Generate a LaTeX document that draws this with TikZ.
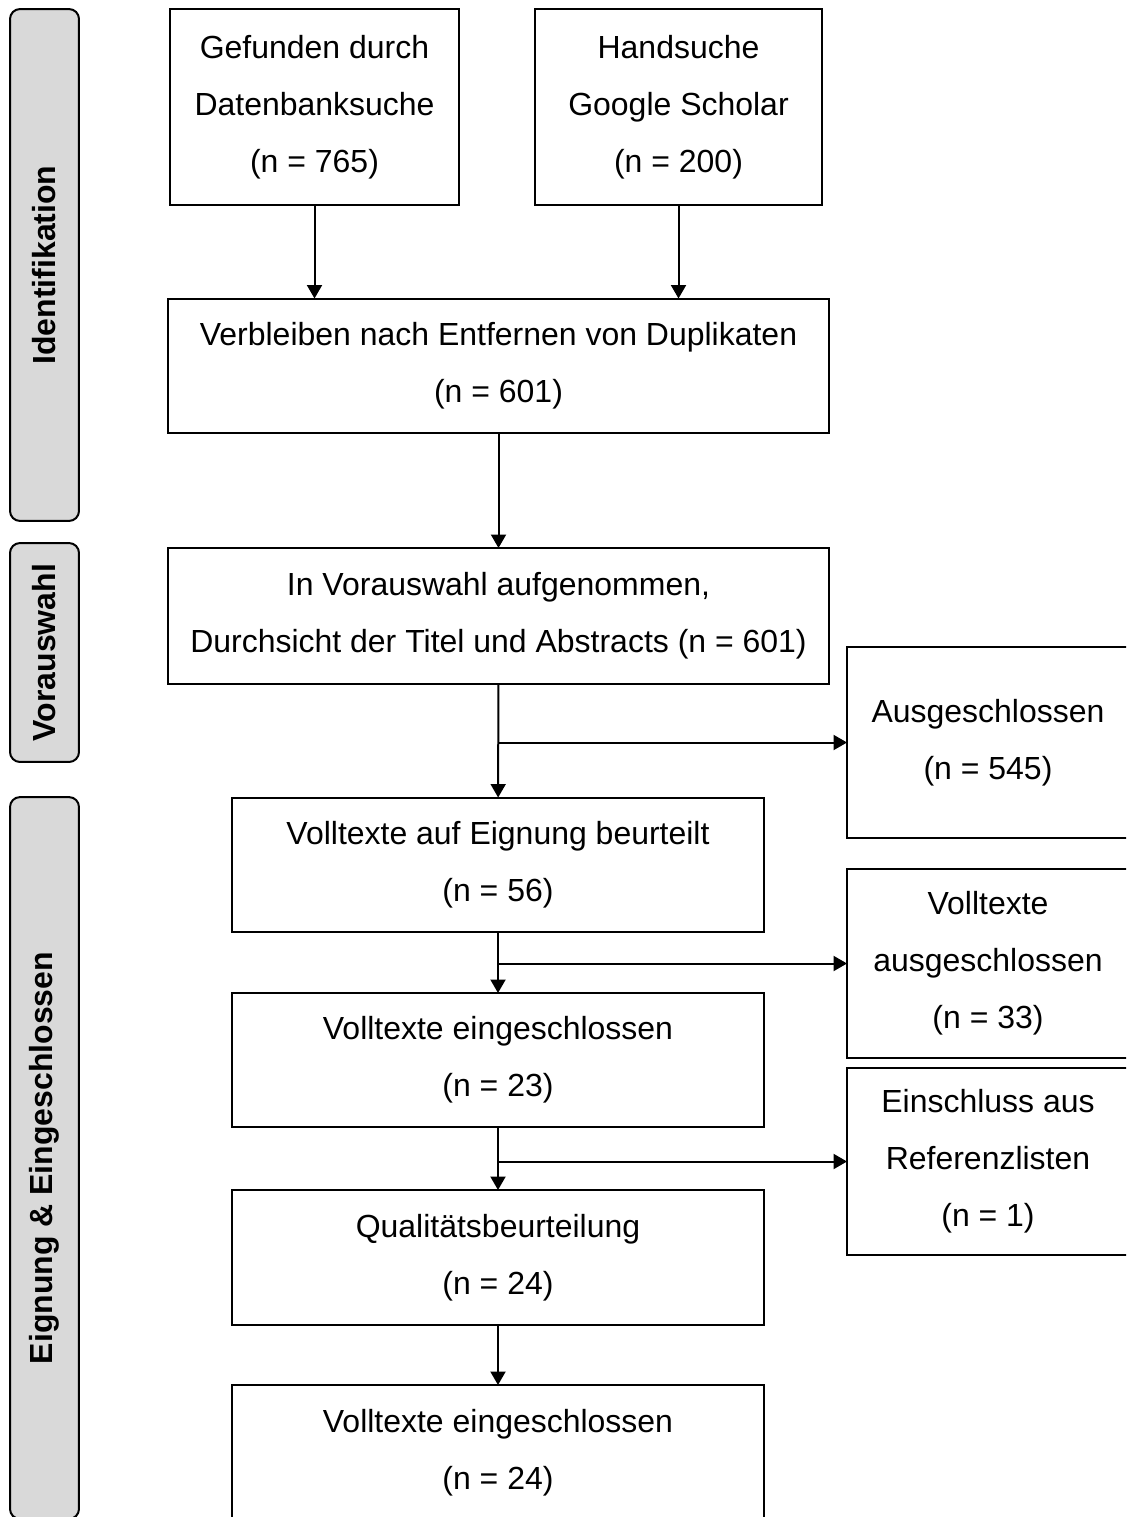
\documentclass[tikz,border=0pt]{standalone}
\usepackage{fontspec}
\setmainfont{Liberation Sans}
\usepackage{tikz}
\usetikzlibrary{arrows.meta}
\definecolor{phasegray}{HTML}{D9D9D9}

\begin{document}
\begin{tikzpicture}[x=0.02cm, y=-0.02cm,
        box/.style={draw, line width=0.04cm, inner sep=0, outer sep=0, align=center,
            font=\fontsize{18.2}{32.4}\selectfont},
        phase/.style={draw, line width=0.04cm, fill=phasegray, rounded corners=0.2cm,
            rotate=90, inner sep=0, outer sep=0, minimum height=1.38cm,
            font=\fontsize{18.2}{20}\selectfont\bfseries},
        arr/.style={line width=0.04cm, -{Triangle[length=0.27cm, width=0.3cm]}}]
        \useasboundingbox (0, 0) rectangle (1126, 1517);
        \clip (0, 0) rectangle (1126, 1517);
        % phases
        \node[phase, minimum width=10.24cm] (P1) at (44.5, 265) {Identifikation};
        \node[phase, minimum width=4.38cm] (P2) at (44.5, 652.5) {Vorauswahl};
        \node[phase, minimum width=14.44cm] (P3) at (44.5, 1158) {Eignung \& Eingeschlossen};
        % main column
        \node[box, minimum width=5.78cm, minimum height=3.92cm] (A1) at (314.5, 107) {Gefunden durch\\Datenbanksuche\\(n = 765)};
        \node[box, minimum width=5.74cm, minimum height=3.92cm] (A2) at (678.5, 107) {Handsuche\\Google Scholar\\(n = 200)};
        \node[box, minimum width=13.22cm, minimum height=2.7cm] (A3) at (498.5, 366) {Verbleiben nach Entfernen von Duplikaten\\(n = 601)};
        \node[box, minimum width=13.22cm, minimum height=2.72cm] (A4) at (498.5, 616) {In Vorauswahl aufgenommen,\\Durchsicht der Titel und Abstracts (n = 601)};
        \node[box, minimum width=10.64cm, minimum height=2.7cm] (A5) at (498, 865) {Volltexte auf Eignung beurteilt\\(n = 56)};
        \node[box, minimum width=10.64cm, minimum height=2.68cm] (A6) at (498, 1060) {Volltexte eingeschlossen\\(n = 23)};
        \node[box, minimum width=10.64cm, minimum height=2.7cm] (A7) at (498, 1257.5) {Qualitätsbeurteilung\\(n = 24)};
        \node[box, minimum width=10.64cm, minimum height=2.7cm] (A8) at (498, 1452.5) {Volltexte eingeschlossen\\(n = 24)};
        % side column
        \node[box, minimum width=5.64cm, minimum height=3.82cm] (B1) at (988, 742.5) {Ausgeschlossen\\(n = 545)};
        \node[box, minimum width=5.64cm, minimum height=3.78cm] (B2) at (988, 963.5) {Volltexte\\ausgeschlossen\\(n = 33)};
        \node[box, minimum width=5.64cm, minimum height=3.74cm] (B3) at (988, 1161.5) {Einschluss aus\\Referenzlisten\\(n = 1)};
        % arrows
        \draw[arr] (A1) to (A1 |- A3.north);
        \draw[arr] (A2) to (A2 |- A3.north);
        \draw[arr] (A3) to (A4);
        \draw[arr] (A4) to (A5);
        \draw[arr] (A5) to (A6);
        \draw[arr] (A6) to (A7);
        \draw[arr] (A7) to (A8);
        \draw[arr] (A4.south |- B1.west) to (B1.west);
        \draw[arr] (A5.south |- B2.west) to (B2.west);
        \draw[arr] (A6.south |- B3.west) to (B3.west);
    \end{tikzpicture}
\end{document}
